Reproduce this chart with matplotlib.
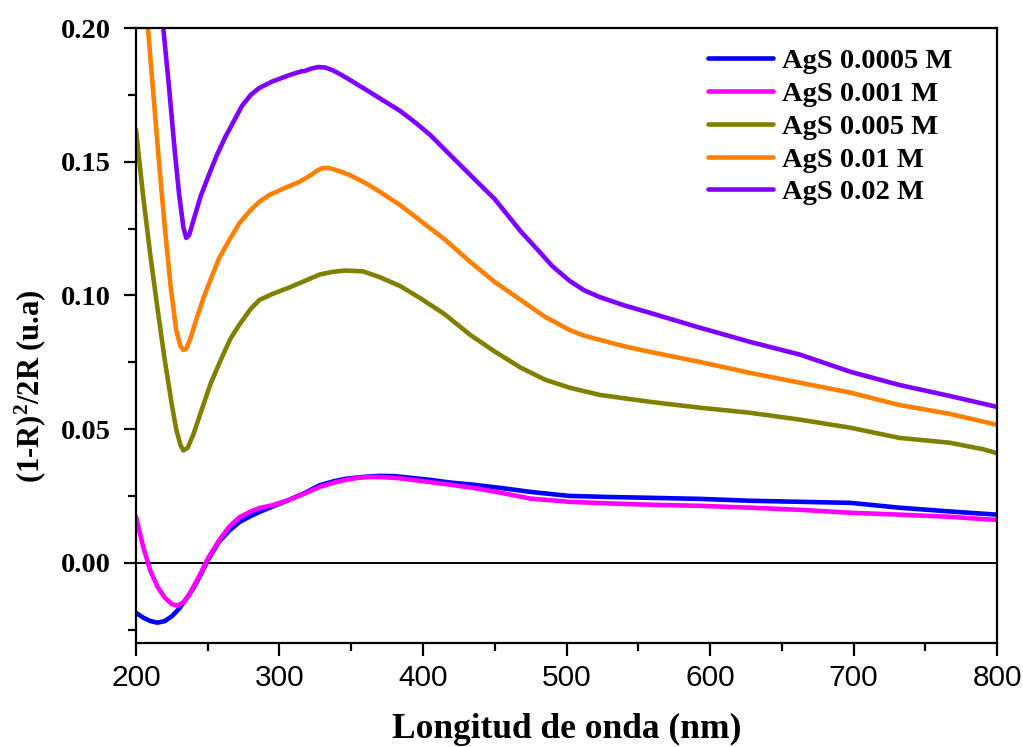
import matplotlib
matplotlib.use("Agg")
import matplotlib.pyplot as plt
from matplotlib.ticker import MultipleLocator

# Wavelength grids (nm) and Kubelka-Munk values (1-R)^2/2R for each sample
wl_0005 = [200, 205, 210, 215, 220, 225, 230, 235, 240, 245, 250, 258, 265, 272, 280, 286,
           295, 307, 318, 328, 338, 346, 358, 370, 380, 391, 405, 419, 435, 454, 475, 502,
           530, 558, 593, 628, 663, 698, 732, 767, 800]
ks_0005 = [-0.0187, -0.0205, -0.0218, -0.0224, -0.0218, -0.0200, -0.0172, -0.0135, -0.0095,
           -0.0045, 0.0010, 0.0080, 0.0120, 0.0152, 0.0175, 0.0190, 0.0210, 0.0236, 0.0262,
           0.0290, 0.0305, 0.0314, 0.0321, 0.0325, 0.0324, 0.0318, 0.0310, 0.0300, 0.0292,
           0.0280, 0.0265, 0.0250, 0.0246, 0.0243, 0.0239, 0.0232, 0.0228, 0.0224, 0.0206,
           0.0192, 0.0180]

wl_001 = [200, 205, 210, 215, 220, 225, 229, 233, 237, 240, 245, 250, 258, 265, 272, 280,
          286, 295, 307, 318, 328, 338, 346, 355, 363, 373, 384, 400, 419, 435, 454, 475,
          502, 530, 558, 593, 628, 663, 698, 732, 767, 800]
ks_001 = [0.0172, 0.0060, -0.0030, -0.0090, -0.0130, -0.0155, -0.0160, -0.0148, -0.0120,
          -0.0090, -0.0040, 0.0015, 0.0085, 0.0135, 0.0170, 0.0192, 0.0205, 0.0215, 0.0236,
          0.0260, 0.0284, 0.0300, 0.0310, 0.0318, 0.0321, 0.0320, 0.0316, 0.0305, 0.0292,
          0.0280, 0.0262, 0.0240, 0.0228, 0.0222, 0.0217, 0.0213, 0.0206, 0.0198, 0.0187,
          0.0180, 0.0172, 0.0160]

wl_005 = [200, 205, 210, 215, 220, 225, 228, 231, 233, 236, 240, 245, 252, 260, 266, 272,
          280, 286, 295, 307, 318, 328, 337, 346, 358, 370, 384, 398, 415, 433, 450, 468,
          485, 502, 523, 558, 593, 628, 663, 698, 732, 767, 790, 800]
ks_005 = [0.1620, 0.1370, 0.1150, 0.0950, 0.0760, 0.0590, 0.0500, 0.0440, 0.0420, 0.0430,
          0.0480, 0.0560, 0.0670, 0.0770, 0.0840, 0.0890, 0.0950, 0.0983, 0.1005, 0.1030,
          0.1055, 0.1078, 0.1088, 0.1093, 0.1090, 0.1068, 0.1035, 0.0990, 0.0930, 0.0852,
          0.0790, 0.0730, 0.0685, 0.0655, 0.0628, 0.0602, 0.0580, 0.0561, 0.0535, 0.0505,
          0.0467, 0.0449, 0.0425, 0.0410]

wl_01 = [200, 204, 208, 212, 216, 220, 224, 228, 231, 233, 235, 238, 242, 247, 252, 258,
         265, 272, 280, 286, 293, 303, 314, 322, 326, 330, 334, 338, 343, 349, 360, 370,
         384, 398, 415, 433, 450, 468, 485, 502, 512, 523, 540, 558, 593, 628, 663, 698,
         732, 767, 800]
ks_01 = [0.2600, 0.2300, 0.2020, 0.1760, 0.1500, 0.1260, 0.1040, 0.0870, 0.0810, 0.0796,
         0.0800, 0.0840, 0.0910, 0.0990, 0.1060, 0.1140, 0.1207, 0.1270, 0.1320, 0.1350,
         0.1376, 0.1400, 0.1425, 0.1450, 0.1466, 0.1476, 0.1477, 0.1471, 0.1462, 0.1450,
         0.1420, 0.1387, 0.1338, 0.1280, 0.1210, 0.1125, 0.1050, 0.0983, 0.0920, 0.0871,
         0.0850, 0.0834, 0.0810, 0.0789, 0.0751, 0.0710, 0.0673, 0.0636, 0.0590, 0.0557,
         0.0516]

wl_02 = [200, 205, 210, 215, 219, 223, 227, 230, 233, 235, 237, 240, 245, 250, 256, 262,
         268, 274, 280, 286, 295, 307, 314, 318, 322, 327, 332, 337, 342, 349, 360, 372,
         384, 395, 405, 418, 433, 450, 468, 480, 490, 502, 512, 523, 540, 558, 593, 628,
         663, 698, 732, 767, 800]
ks_02 = [0.3300, 0.2900, 0.2550, 0.2230, 0.2000, 0.1780, 0.1540, 0.1380, 0.1255, 0.1215,
         0.1225, 0.1280, 0.1370, 0.1440, 0.1520, 0.1590, 0.1650, 0.1710, 0.1750, 0.1776,
         0.1800, 0.1824, 0.1836, 0.1840, 0.1848, 0.1854, 0.1852, 0.1842, 0.1828, 0.1806,
         0.1770, 0.1730, 0.1690, 0.1645, 0.1600, 0.1530, 0.1450, 0.1360, 0.1240, 0.1170,
         0.1110, 0.1055, 0.1020, 0.0994, 0.0963, 0.0935, 0.0879, 0.0826, 0.0778, 0.0714,
         0.0665, 0.0624, 0.0583]

labels = ["AgS 0.0005 M", "AgS 0.001 M", "AgS 0.005 M", "AgS 0.01 M", "AgS 0.02 M"]
colors = ["#0000ff", "#ff00ff", "#808000", "#ff8000", "#8000ff"]
wavelengths = [wl_0005, wl_001, wl_005, wl_01, wl_02]
values = [ks_0005, ks_001, ks_005, ks_01, ks_02]

xticks = [200, 300, 400, 500, 600, 700, 800]
yticks = [0.00, 0.05, 0.10, 0.15, 0.20]
ytick_labels = ["0.00", "0.05", "0.10", "0.15", "0.20"]

serif = ["Liberation Serif", "DejaVu Serif"]
sans = ["Liberation Sans", "DejaVu Sans"]

plt.rcParams["mathtext.fontset"] = "custom"
plt.rcParams["mathtext.rm"] = "Liberation Serif:bold"
plt.rcParams["mathtext.it"] = "Liberation Serif:bold"
plt.rcParams["mathtext.bf"] = "Liberation Serif:bold"

fig = plt.figure(figsize=(10.23, 7.47), dpi=100)
ax = fig.add_axes([136 / 1023, 1 - 643 / 747, 861 / 1023, 615 / 747])

for x, y, lab, col in zip(wavelengths, values, labels, colors):
    ax.plot(x, y, color=col, lw=3.3, label=lab, solid_capstyle="round",
            solid_joinstyle="round")

ax.axhline(0.0, color="black", lw=1.4, zorder=1)

ax.set_xlim(200, 800)
ax.set_ylim(-0.03, 0.20)
ax.set_xticks(xticks)
ax.set_xticklabels([str(v) for v in xticks], fontfamily=sans)
ax.set_yticks(yticks)
ax.set_yticklabels(ytick_labels, fontfamily=serif, fontweight="bold")
ax.xaxis.set_minor_locator(MultipleLocator(50))
ax.yaxis.set_minor_locator(MultipleLocator(0.025))
ax.tick_params(axis="both", which="major", direction="out", length=9, width=1.6)
ax.tick_params(axis="both", which="minor", direction="out", length=5.5, width=1.6)
ax.tick_params(axis="x", which="major", pad=6, labelsize=21.5)
ax.tick_params(axis="y", which="major", pad=9, labelsize=20.5)
for sp in ax.spines.values():
    sp.set_linewidth(1.6)

ax.set_xlabel("Longitud de onda (nm)", fontfamily=serif, fontweight="bold",
              fontsize=25.5)
ax.xaxis.set_label_coords(0.5, -0.1135)
ax.set_ylabel(r"(1-R)$^{2}$/2R (u.a)", fontfamily=serif, fontweight="bold",
              fontsize=22)
ax.yaxis.set_label_coords(-0.102, 0.418)

ax.legend(loc="upper left", frameon=False,
          prop={"family": serif, "weight": "bold", "size": 20.5},
          handlelength=2.3, handletextpad=0.3, labelspacing=0.24,
          borderpad=0, borderaxespad=0, bbox_to_anchor=(0.664, 0.967))

fig.savefig("out.png", dpi=100)
